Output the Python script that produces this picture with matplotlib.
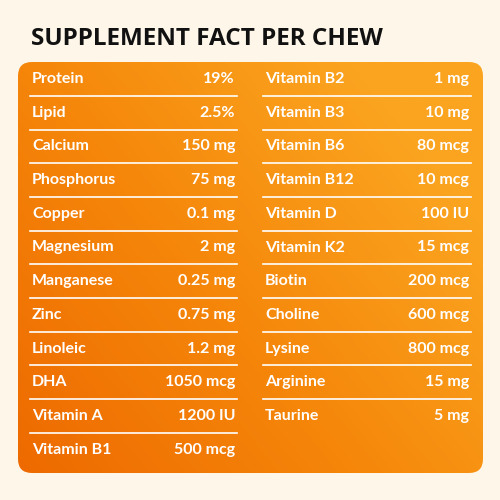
import numpy as np
import matplotlib.pyplot as plt
from matplotlib.patches import FancyBboxPatch
from matplotlib.colors import LinearSegmentedColormap

# ── Data ──────────────────────────────────────────────────────────────────────
left_names = ["Protein", "Lipid", "Calcium", "Phosphorus", "Copper", "Magnesium",
              "Manganese", "Zinc", "Linoleic", "DHA", "Vitamin A", "Vitamin B1"]
left_vals = ["19%", "2.5%", "150 mg", "75 mg", "0.1 mg", "2 mg",
             "0.25 mg", "0.75 mg", "1.2 mg", "1050 mcg", "1200 IU", "500 mcg"]
right_names = ["Vitamin B2", "Vitamin B3", "Vitamin B6", "Vitamin B12", "Vitamin D",
               "Vitamin K2", "Biotin", "Choline", "Lysine", "Arginine", "Taurine"]
right_vals = ["1 mg", "10 mg", "80 mcg", "10 mcg", "100 IU",
              "15 mcg", "200 mcg", "600 mcg", "800 mcg", "15 mg", "5 mg"]

# ── Figure ────────────────────────────────────────────────────────────────────
fig = plt.figure(figsize=(5, 5), dpi=100)
fig.patch.set_facecolor("#FDF6E9")
ax = fig.add_axes([0, 0, 1, 1])
ax.set_xlim(0, 500)
ax.set_ylim(500, 0)
ax.axis("off")

ax.text(31, 39, "SUPPLEMENT FACT PER CHEW", fontsize=17.5, fontweight="bold",
        color="#111111", va="center", ha="left", family="Open Sans")

# gradient box
box = FancyBboxPatch((18, 62), 465, 411, boxstyle="round,pad=0,rounding_size=14",
                     fc="none", ec="none")
ax.add_patch(box)
yy, xx = np.mgrid[0:1:200j, 0:1:200j]
g = np.clip(0.7 * xx + 0.5 * (1 - yy), 0, 1)
cmap = LinearSegmentedColormap.from_list("o", ["#EE6A00", "#F5860A", "#FBA420"])
im = ax.imshow(g, cmap=cmap, extent=(18, 483, 473, 62), origin="upper",
               aspect="auto", zorder=1)
im.set_clip_path(box)

step = 33.7
y0 = 79
def column(names, vals, x_l, x_r):
    for i, (n, v) in enumerate(zip(names, vals)):
        y = y0 + i * step
        ax.text(x_l, y, n, color="white", fontsize=11.5, fontweight="bold",
                va="center", ha="left", family="Lato", zorder=3)
        ax.text(x_r, y, v, color="white", fontsize=11.5, fontweight="bold",
                va="center", ha="right", family="Lato", zorder=3)
        if i < len(names) - 1:
            ax.plot([x_l - 2, x_r + 2], [y + step / 2, y + step / 2],
                    color="white", lw=1.2, zorder=3)

column(left_names, left_vals, 32, 235)
column(right_names, right_vals, 265, 469)

fig.savefig("out.png", dpi=100)
